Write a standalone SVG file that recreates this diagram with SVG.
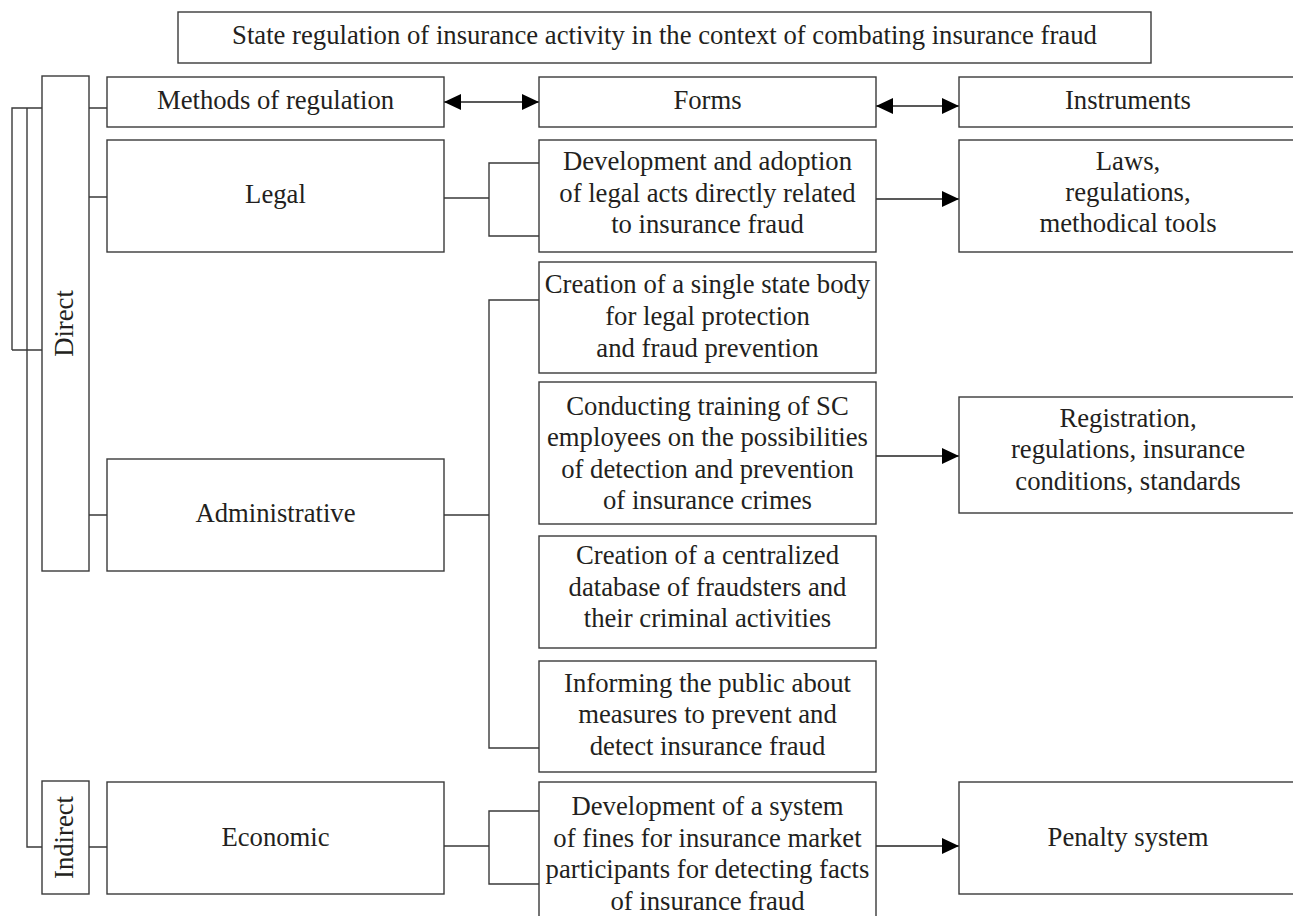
<svg xmlns="http://www.w3.org/2000/svg" width="1293" height="916" viewBox="0 0 1293 916">
<style>
.box{fill:#fff;stroke:#3a3a3a;stroke-width:1.4}
.t{font-family:"Liberation Serif","Times New Roman",serif;font-size:26.7px;fill:#231f20;text-anchor:middle}
.ln{fill:none;stroke:#3a3a3a;stroke-width:1.4}
.ar{fill:none;stroke:#222;stroke-width:1.4}
</style>
<defs>
<marker id="ah" markerUnits="userSpaceOnUse" markerWidth="18" markerHeight="18" refX="17" refY="8" orient="auto-start-reverse" viewBox="0 0 18 16">
<path d="M0,0 L17,8 L0,16 Z" fill="#000"/>
</marker>
</defs>
<rect width="1293" height="916" fill="#fff"/>
<g id="connectors">
<path class="ln" d="M12,350 V108 H42 M12,350 H42 M27,108 V847 H42"/>
<path class="ln" d="M89,108 H107 M89,197 H107 M89,515 H107 M89,847 H107"/>
<path class="ln" d="M444,198 H489 M539,163 H489 V236 H539"/>
<path class="ln" d="M444,515 H489 M539,300 H489 V748 H539"/>
<path class="ln" d="M444,846 H489 M539,811 H489 V884 H539"/>
<line class="ar" x1="444" y1="102" x2="539" y2="102" marker-start="url(#ah)" marker-end="url(#ah)"/>
<line class="ar" x1="876" y1="106" x2="959" y2="106" marker-start="url(#ah)" marker-end="url(#ah)"/>
<line class="ar" x1="876" y1="199" x2="959" y2="199" marker-end="url(#ah)"/>
<line class="ar" x1="876" y1="456" x2="959" y2="456" marker-end="url(#ah)"/>
<line class="ar" x1="876" y1="846" x2="959" y2="846" marker-end="url(#ah)"/>
</g>
<g id="title"><rect class="box" x="178" y="12" width="973" height="51"/><text class="t" x="664.5" y="44">State regulation of insurance activity in the context of combating insurance fraud</text></g>
<g id="direct"><rect class="box" x="42" y="76" width="47" height="495"/><text class="t" transform="translate(73,323.5) rotate(-90)">Direct</text></g>
<g id="indirect"><rect class="box" x="42" y="781" width="47" height="113"/><text class="t" transform="translate(73,837.5) rotate(-90)">Indirect</text></g>
<g id="methods"><rect class="box" x="107" y="77" width="337" height="50"/><text class="t" x="275.5" y="109">Methods of regulation</text></g>
<g id="forms"><rect class="box" x="539" y="77" width="337" height="50"/><text class="t" x="707.5" y="109">Forms</text></g>
<g id="instruments"><rect class="box" x="959" y="77" width="338" height="50"/><text class="t" x="1128" y="109">Instruments</text></g>
<g id="legal"><rect class="box" x="107" y="140" width="337" height="112"/><text class="t" x="275.5" y="203">Legal</text></g>
<g id="dev-legal"><rect class="box" x="539" y="140" width="337" height="112"/><text class="t" x="707.5" y="170">Development and adoption</text><text class="t" x="707.5" y="202">of legal acts directly related</text><text class="t" x="707.5" y="233">to insurance fraud</text></g>
<g id="laws"><rect class="box" x="959" y="140" width="338" height="112"/><text class="t" x="1128" y="170">Laws,</text><text class="t" x="1128" y="201">regulations,</text><text class="t" x="1128" y="232">methodical tools</text></g>
<g id="creation-body"><rect class="box" x="539" y="262" width="337" height="111"/><text class="t" x="707.5" y="293">Creation of a single state body</text><text class="t" x="707.5" y="325">for legal protection</text><text class="t" x="707.5" y="357">and fraud prevention</text></g>
<g id="training"><rect class="box" x="539" y="382" width="337" height="142"/><text class="t" x="707.5" y="415">Conducting training of SC</text><text class="t" x="707.5" y="446">employees on the possibilities</text><text class="t" x="707.5" y="478">of detection and prevention</text><text class="t" x="707.5" y="509">of insurance crimes</text></g>
<g id="administrative"><rect class="box" x="107" y="459" width="337" height="112"/><text class="t" x="275.5" y="522">Administrative</text></g>
<g id="registration"><rect class="box" x="959" y="397" width="338" height="116"/><text class="t" x="1128" y="427">Registration,</text><text class="t" x="1128" y="458">regulations, insurance</text><text class="t" x="1128" y="490">conditions, standards</text></g>
<g id="database"><rect class="box" x="539" y="536" width="337" height="112"/><text class="t" x="707.5" y="564">Creation of a centralized</text><text class="t" x="707.5" y="596">database of fraudsters and</text><text class="t" x="707.5" y="627">their criminal activities</text></g>
<g id="informing"><rect class="box" x="539" y="661" width="337" height="111"/><text class="t" x="707.5" y="692">Informing the public about</text><text class="t" x="707.5" y="723">measures to prevent and</text><text class="t" x="707.5" y="755">detect insurance fraud</text></g>
<g id="economic"><rect class="box" x="107" y="782" width="337" height="112"/><text class="t" x="275.5" y="846">Economic</text></g>
<g id="fines"><rect class="box" x="539" y="782" width="337" height="150"/><text class="t" x="707.5" y="815">Development of a system</text><text class="t" x="707.5" y="847">of fines for insurance market</text><text class="t" x="707.5" y="878">participants for detecting facts</text><text class="t" x="707.5" y="910">of insurance fraud</text></g>
<g id="penalty"><rect class="box" x="959" y="782" width="338" height="112"/><text class="t" x="1128" y="846">Penalty system</text></g>
</svg>
